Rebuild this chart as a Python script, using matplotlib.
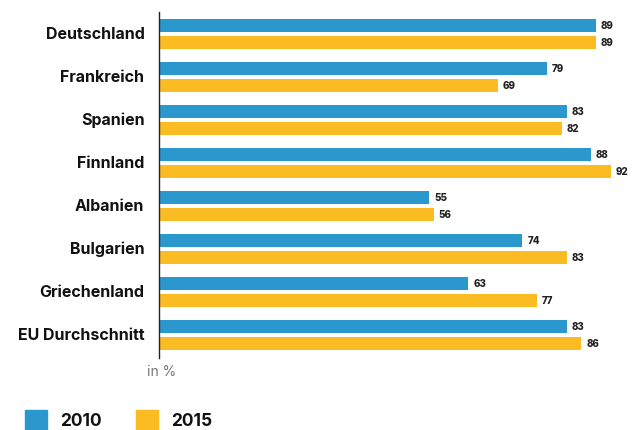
import numpy as np
import matplotlib
matplotlib.use("Agg")
from matplotlib import pyplot as plt
from matplotlib.patches import Rectangle

countries = ["Deutschland", "Frankreich", "Spanien", "Finnland", "Albanien",
             "Bulgarien", "Griechenland", "EU Durchschnitt"]
values_2010 = [89, 79, 83, 88, 55, 74, 63, 83]
values_2015 = [89, 69, 82, 92, 56, 83, 77, 86]
years = ["2010", "2015"]

BLUE = "#2a98cd"
YELLOW = "#fbbb22"

plt.rcParams['font.family'] = ['Inter', 'DejaVu Sans']

fig = plt.figure(figsize=(6.4, 4.3), dpi=100)
W, H = 640, 430
left, right, top, bottom = 159, 640, 12, 358
ax = fig.add_axes([left / W, 1 - bottom / H, (right - left) / W, (bottom - top) / H])

y = np.arange(len(countries))
off = 0.2
hgt = 0.30
ax.barh(y - off, values_2010, height=hgt, color=BLUE)
ax.barh(y + off, values_2015, height=hgt, color=YELLOW)

for yi, v in zip(y - off, values_2010):
    ax.text(v + 1.0, yi, str(v), va="center", ha="left", fontsize=7, fontweight="heavy", color="#222222")
for yi, v in zip(y + off, values_2015):
    ax.text(v + 1.0, yi, str(v), va="center", ha="left", fontsize=7, fontweight="heavy", color="#222222")

ax.set_xlim(0, (right - left) / 4.91)
ax.set_ylim(7.53, -0.52)
ax.set_yticks(y - 0.04)
ax.set_yticklabels(countries, fontsize=11.5, fontweight="bold", color="#111111")
ax.tick_params(axis="y", length=0, pad=10.5)
ax.set_xticks([])
for s in ["top", "right", "bottom"]:
    ax.spines[s].set_visible(False)
ax.spines["left"].set_color("#222222")
ax.spines["left"].set_linewidth(1.0)

fig.text(147 / W, 1 - 372 / H, "in %", fontsize=10, color="#777777", ha="left", va="center")

# legend
for x0, col, lab in [(25, BLUE, years[0]), (136, YELLOW, years[1])]:
    fig.patches.append(Rectangle((x0 / W, 0), 22 / W, 20 / H, transform=fig.transFigure,
                                 color=col, figure=fig))
    fig.text((x0 + 35) / W, 1 - 421 / H, lab, fontsize=12.5, fontweight="bold",
             color="#111111", ha="left", va="center")

fig.savefig("out.png", dpi=100)
